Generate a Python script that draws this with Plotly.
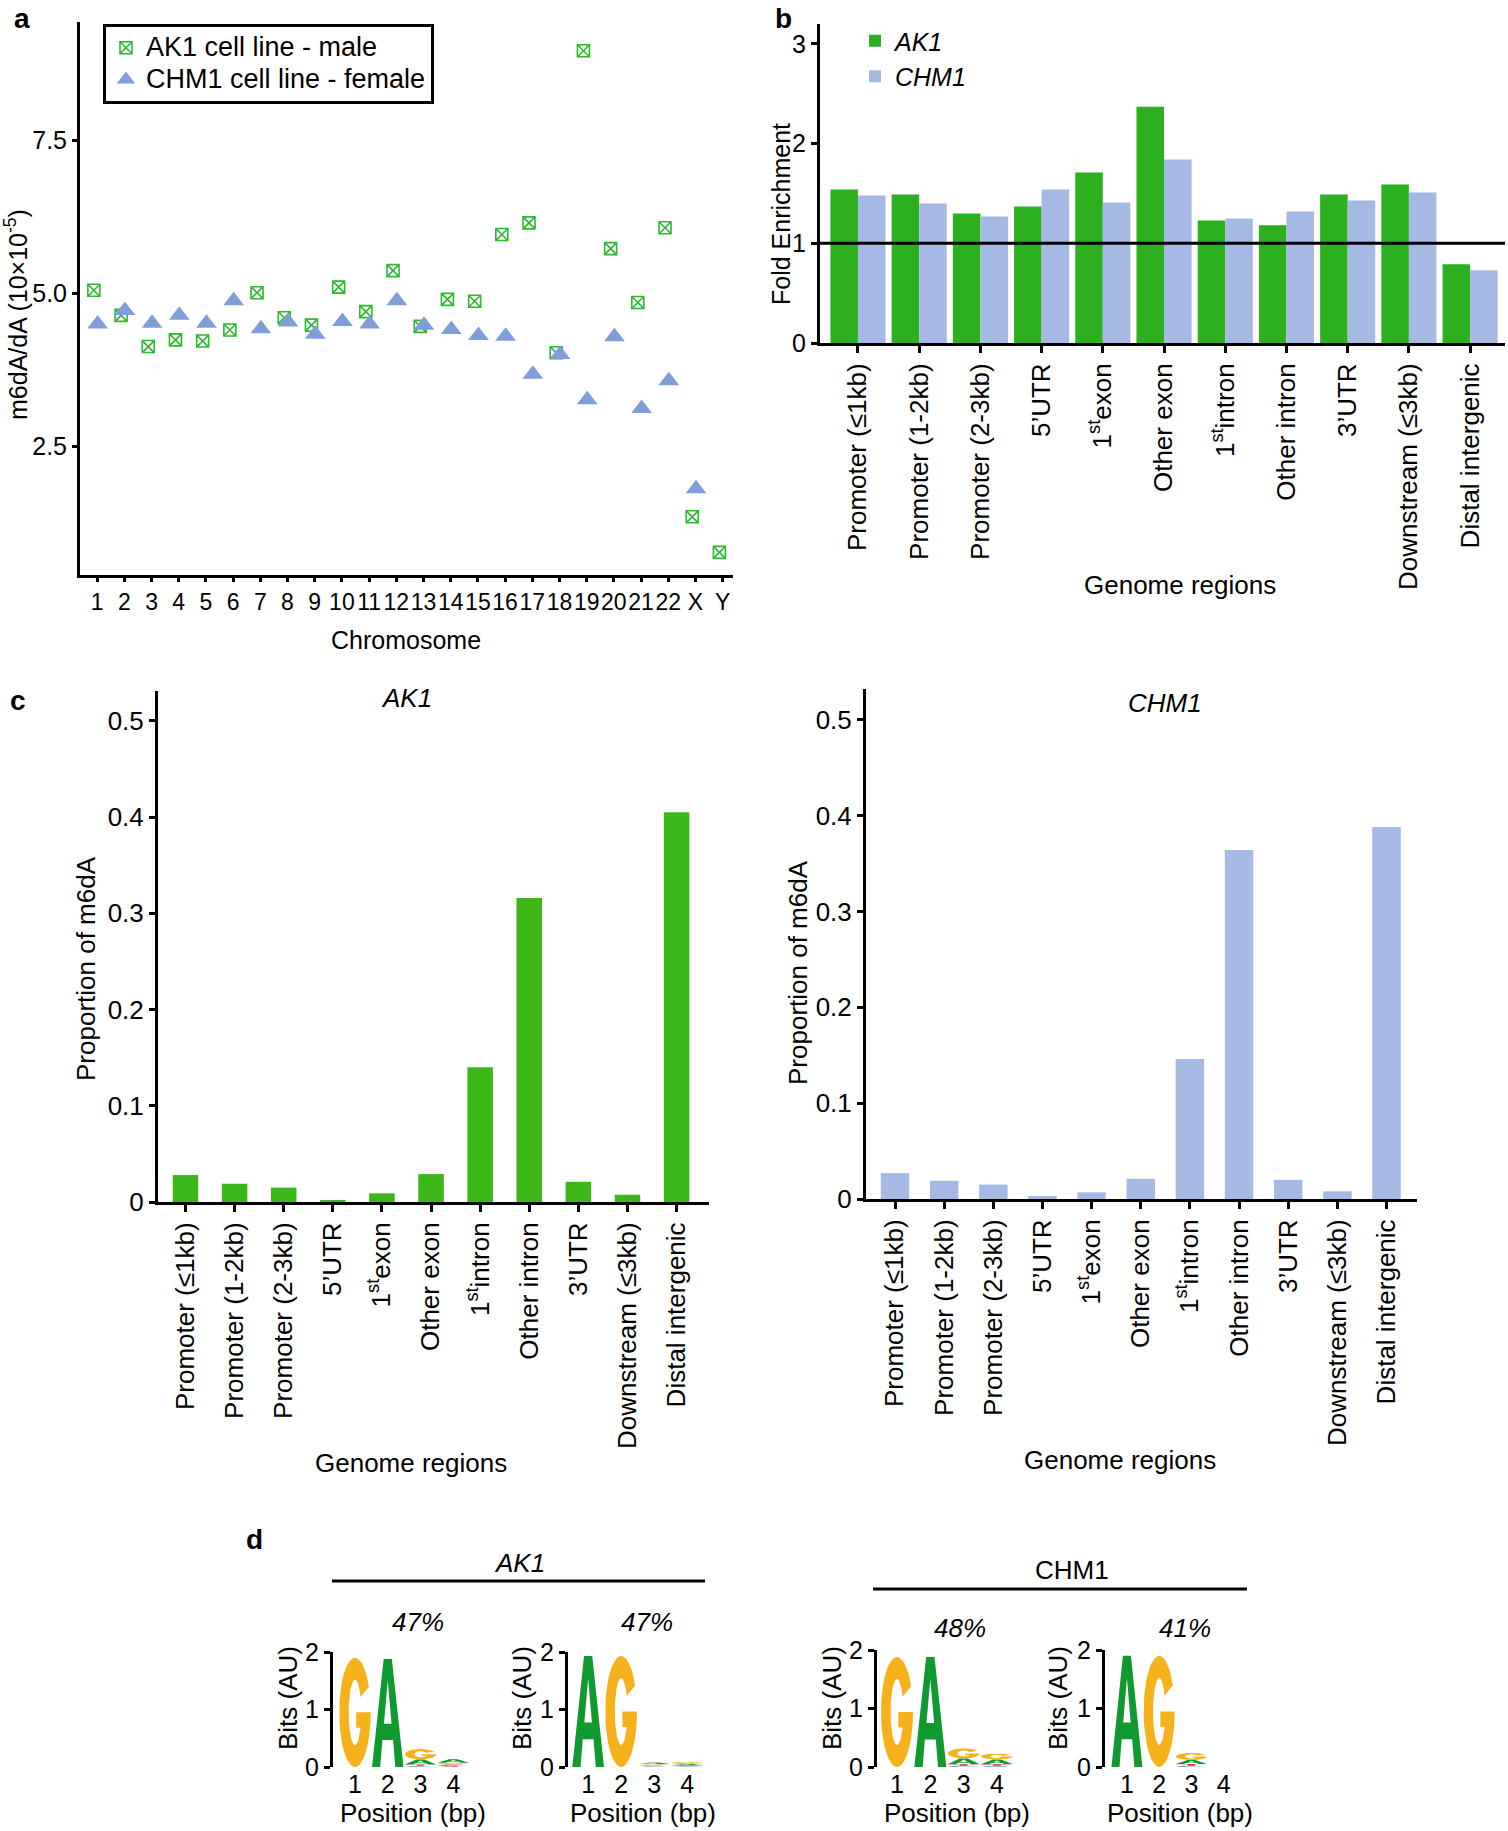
import numpy as np
import plotly.graph_objects as go

W, H = 1508, 1831
OFF = 0
FONT = "Liberation Sans, Arial, Helvetica, sans-serif"

# ---------------- data ----------------
# panel a
chromosomes = [str(i) for i in range(1, 23)] + ["X", "Y"]
ak1_m6da = [5.05, 4.64, 4.13, 4.24, 4.22, 4.40, 5.01, 4.60, 4.48, 5.10, 4.70, 5.37,
            4.46, 4.90, 4.87, 5.96, 6.15, 4.03, 8.96, 5.73, 4.85, 6.07, 1.35, 0.77]
chm1_m6da = [4.50, 4.72, 4.51, 4.64, 4.51, 4.88, 4.42, 4.53, 4.33, 4.54, 4.50, 4.88,
             4.48, 4.41, 4.31, 4.30, 3.68, 4.00, 3.26, 4.29, 3.12, 3.57, 1.81, None]

# panel b / c
regions = ["Promoter (≤1kb)", "Promoter (1-2kb)", "Promoter (2-3kb)", "5’UTR",
           "1<sup>st</sup>exon", "Other exon", "1<sup>st</sup>intron", "Other intron",
           "3’UTR", "Downstream (≤3kb)", "Distal intergenic"]
ak1_fold = [1.54, 1.49, 1.30, 1.37, 1.71, 2.37, 1.23, 1.18, 1.49, 1.59, 0.79]
chm1_fold = [1.48, 1.40, 1.27, 1.54, 1.41, 1.84, 1.25, 1.32, 1.43, 1.51, 0.73]
ak1_prop = [0.028, 0.019, 0.015, 0.002, 0.009, 0.029, 0.140, 0.316, 0.021, 0.0075, 0.405]
chm1_prop = [0.027, 0.019, 0.015, 0.003, 0.007, 0.021, 0.146, 0.364, 0.020, 0.008, 0.388]

# panel d: sequence logos (bits per letter at positions 1..4)
logo_positions = [1, 2, 3, 4]
ak1_GA = {"G": [1.90, 0, 0.18, 0.035], "A": [0, 1.88, 0.09, 0.06],
          "C": [0, 0, 0.02, 0.025], "T": [0, 0, 0.022, 0.015]}
ak1_AG = {"A": [1.93, 0, 0.03, 0.03], "G": [0, 1.93, 0.025, 0.035],
          "C": [0, 0, 0.015, 0.015], "T": [0, 0, 0.01, 0.01]}
chm1_GA = {"G": [1.88, 0, 0.17, 0.10], "A": [0, 1.88, 0.10, 0.085],
           "C": [0, 0, 0.022, 0.02], "T": [0, 0, 0.025, 0.025]}
chm1_AG = {"A": [1.90, 0, 0.07, 0.012], "G": [0, 1.90, 0.12, 0],
           "C": [0, 0, 0.022, 0], "T": [0, 0, 0.028, 0]}
logo_pct = ["47%", "47%", "48%", "41%"]

# ---------------- styles ----------------
GREEN_A = "#2DB82D"
BLUE_A = "#7F9ED9"
GREEN_B = "#2DB020"
BLUE_B = "#A6B9E4"
GREEN_C = "#3BB71A"
LETTER_COLORS = {"G": "#F6B21C", "A": "#10992F", "C": "#5B7FC9", "T": "#D9303A"}


def px_x(px):
    return (px - OFF) / W


def px_y(py):
    return 1 - (py - OFF) / H


def xd(a, b):
    return [px_x(a), px_x(b)]


def yd(top, bottom):
    return [px_y(bottom), px_y(top)]


def ann(text, px, py, size=25, angle=0, xanchor="center", yanchor="middle"):
    return dict(text=text, x=px_x(px), y=px_y(py), xref="paper", yref="paper",
                showarrow=False, textangle=angle, xanchor=xanchor, yanchor=yanchor,
                font=dict(size=size, family=FONT, color="black"))


# ---------------- glyph outlines (unit box) ----------------
def arc(cx, cy, rx, ry, a0, a1, n=48):
    t = np.radians(np.linspace(a0, a1, n))
    return list(cx + rx * np.cos(t)), list(cy + ry * np.sin(t))


def glyph(letter):
    if letter == "A":
        xs = [0, 0.26, 0.33, 0.67, 0.74, 1, 0.63, 0.37, 0, 0.38, 0.5, 0.62, 0.38, 0]
        ys = [0, 0, 0.25, 0.25, 0, 0, 1, 1, 0, 0.40, 0.80, 0.40, 0.40, 0]
        return xs, ys
    if letter == "T":
        return ([0, 1, 1, 0.62, 0.62, 0.38, 0.38, 0],
                [1, 1, 0.82, 0.82, 0, 0, 0.82, 0.82])
    if letter == "C":
        ox, oy = arc(0.5, 0.5, 0.5, 0.5, 40, 320)
        ix, iy = arc(0.5, 0.5, 0.22, 0.28, 320, 40)
        return ox + ix, oy + iy
    # G
    ox, oy = arc(0.5, 0.5, 0.5, 0.5, 28, 360)
    rix, riy = 0.2, 0.3
    bar_bottom = 0.36
    ang = 360 + np.degrees(np.arcsin((bar_bottom - 0.5) / riy))
    ix, iy = arc(0.5, 0.5, rix, riy, ang, 28)
    xs = ox + [0.54, 0.54] + ix
    ys = oy + [0.5, bar_bottom] + iy
    return xs, ys


def logo_traces(bits, axis_n, half=0.48):
    per_letter = {L: ([], []) for L in bits}
    for j, pos in enumerate(logo_positions):
        stack = sorted(((bits[L][j], L) for L in bits), key=lambda t: t[0])
        y0 = 0.0
        for h, L in stack:
            if h <= 0:
                continue
            gx, gy = glyph(L)
            xs = [pos - half + 2 * half * v for v in gx]
            ys = [y0 + h * v for v in gy]
            per_letter[L][0].extend(xs + [None])
            per_letter[L][1].extend(ys + [None])
            y0 += h
    traces = []
    for L, (xs, ys) in per_letter.items():
        if not xs:
            continue
        traces.append(go.Scatter(x=xs, y=ys, mode="lines", fill="toself",
                                 fillcolor=LETTER_COLORS[L],
                                 line=dict(width=0, color=LETTER_COLORS[L]),
                                 xaxis=f"x{axis_n}", yaxis=f"y{axis_n}",
                                 showlegend=False, hoverinfo="skip"))
    return traces


fig = go.Figure()

# ---------------- panel a ----------------
idx = np.arange(len(chromosomes))
fig.add_trace(go.Scatter(x=idx - 0.12, y=ak1_m6da, mode="markers",
                         name="<span style='font-size:27px'>AK1 cell line - male</span>",
                         marker=dict(symbol="square-x-open", size=12, color=GREEN_A,
                                     line=dict(width=1.6, color=GREEN_A)),
                         xaxis="x", yaxis="y", legend="legend"))
fig.add_trace(go.Scatter(x=idx + 0.02, y=chm1_m6da, mode="markers",
                         name="<span style='font-size:27px'>CHM1 cell line - female</span>",
                         marker=dict(symbol="triangle-up", size=18, color=BLUE_A),
                         xaxis="x", yaxis="y", legend="legend"))

# ---------------- panel b ----------------
fig.add_trace(go.Bar(x=regions, y=ak1_fold, name="AK1", marker_color=GREEN_B,
                     marker_line_width=0, offset=-0.45, width=0.45,
                     xaxis="x2", yaxis="y2", legend="legend2"))
fig.add_trace(go.Bar(x=regions, y=chm1_fold, name="CHM1", marker_color=BLUE_B,
                     marker_line_width=0, offset=0.0, width=0.45,
                     xaxis="x2", yaxis="y2", legend="legend2"))

# ---------------- panel c ----------------
fig.add_trace(go.Bar(x=regions, y=ak1_prop, marker_color=GREEN_C, marker_line_width=0,
                     width=0.52, offset=-0.26, xaxis="x3", yaxis="y3", showlegend=False))
fig.add_trace(go.Bar(x=regions, y=chm1_prop, marker_color=BLUE_B, marker_line_width=0,
                     width=0.58, offset=-0.29, xaxis="x4", yaxis="y4", showlegend=False))

# ---------------- panel d ----------------
for bits, n in [(ak1_GA, 5), (ak1_AG, 6), (chm1_GA, 7), (chm1_AG, 8)]:
    for tr in logo_traces(bits, n):
        fig.add_trace(tr)

# ---------------- axes ----------------
base = dict(showgrid=False, zeroline=False, showline=True, linecolor="black",
            linewidth=3, ticks="outside", tickcolor="black", tickwidth=2.5,
            ticklen=6, automargin=False,
            tickfont=dict(size=25, family=FONT, color="black"))

layout_axes = {}
layout_axes["xaxis"] = dict(base, domain=xd(80, 733), anchor="y", range=[-0.63, 23.38],
                            tickvals=list(idx), ticktext=chromosomes, ticklen=4,
                            tickangle=0,
                            tickfont=dict(size=23, family=FONT, color="black"))
layout_axes["yaxis"] = dict(base, domain=yd(22, 575), anchor="x", range=[0.40, 9.43],
                            tickvals=[2.5, 5.0, 7.5], tickformat=".1f", ticklen=5)

layout_axes["xaxis2"] = dict(base, domain=xd(820, 1505), anchor="y2", type="category",
                             range=[-0.62, 10.57], tickangle=-90, ticklen=7,
                             tickfont=dict(size=26, family=FONT, color="black"))
layout_axes["yaxis2"] = dict(base, domain=yd(24, 343), anchor="x2", range=[0, 3.2],
                             tickvals=[0, 1, 2, 3])

prop_ticks = [0, 0.1, 0.2, 0.3, 0.4, 0.5]
prop_text = ["0", "0.1", "0.2", "0.3", "0.4", "0.5"]
layout_axes["xaxis3"] = dict(base, domain=xd(158, 709), anchor="y3", type="category",
                             range=[-0.56, 10.66], tickangle=-90, ticklen=7,
                             tickfont=dict(size=26, family=FONT, color="black"))
layout_axes["yaxis3"] = dict(base, domain=yd(691, 1202), anchor="x3", range=[0, 0.531],
                             tickvals=prop_ticks, ticktext=prop_text,
                             tickfont=dict(size=26, family=FONT, color="black"))
layout_axes["xaxis4"] = dict(base, domain=xd(866, 1417), anchor="y4", type="category",
                             range=[-0.59, 10.62], tickangle=-90, ticklen=7,
                             tickfont=dict(size=26, family=FONT, color="black"))
layout_axes["yaxis4"] = dict(base, domain=yd(689, 1199), anchor="x4", range=[0, 0.532],
                             tickvals=prop_ticks, ticktext=prop_text,
                             tickfont=dict(size=26, family=FONT, color="black"))

logo_specs = [(5, (333, 473), (1652, 1767), [0.33, 4.6]),
              (6, (568, 706), (1652, 1767), [0.39, 4.57]),
              (7, (877, 1016), (1650, 1767), [0.40, 4.57]),
              (8, (1105, 1243), (1650, 1767), [0.32, 4.6])]
for n, (x0, x1), (t, b), rng in logo_specs:
    layout_axes[f"xaxis{n}"] = dict(showgrid=False, zeroline=False, showline=False,
                                    domain=xd(x0, x1), anchor=f"y{n}", range=rng,
                                    tickvals=logo_positions, ticks="", tickangle=0,
                                    automargin=False,
                                    tickfont=dict(size=25, family=FONT, color="black"))
    layout_axes[f"yaxis{n}"] = dict(base, domain=yd(t, b), anchor=f"x{n}", range=[0, 2],
                                    tickvals=[0, 1, 2], ticklen=6,
                                    tickfont=dict(size=25, family=FONT, color="black"))

# ---------------- annotations ----------------
annotations = [
    ann("<b>a</b>", 22, 18, size=28),
    ann("<b>b</b>", 783, 18, size=28),
    ann("<b>c</b>", 18, 700, size=28),
    ann("<b>d</b>", 254, 1539, size=28),
    ann("m6dA/dA (10×10<sup>-5</sup>)", 16, 315, angle=-90),
    ann("Chromosome", 406, 640),
    ann("Fold Enrichment", 781, 214, angle=-90),
    ann("Genome regions", 1180, 585, size=26),
    ann("<i>AK1</i>", 406, 698, size=26),
    ann("Proportion of m6dA", 86, 969, size=26, angle=-90),
    ann("Genome regions", 411, 1463, size=26),
    ann("<i>CHM1</i>", 1165, 703, size=26),
    ann("Proportion of m6dA", 798, 973, size=26, angle=-90),
    ann("Genome regions", 1120, 1460, size=26),
    ann("<i>AK1</i>", 519, 1563, size=26),
    ann("CHM1", 1072, 1570, size=26),
]
pct_pos = [(418, 1622), (647, 1622), (960, 1628), (1185, 1628)]
for txt, (px, py) in zip(logo_pct, pct_pos):
    annotations.append(ann(f"<i>{txt}</i>", px, py, size=26))
for bx, by in [(288, 1698), (522, 1698), (832, 1698), (1058, 1698)]:
    annotations.append(ann("Bits (AU)", bx, by, size=26, angle=-90))
for px in [413, 643, 957, 1180]:
    annotations.append(ann("Position (bp)", px, 1813, size=26))

shapes = [
    dict(type="line", xref="x2 domain", x0=0, x1=1, yref="y2", y0=1, y1=1,
         line=dict(color="black", width=3)),
    dict(type="line", xref="paper", yref="paper", x0=px_x(332), x1=px_x(705),
         y0=px_y(1581), y1=px_y(1581), line=dict(color="black", width=3)),
    dict(type="line", xref="paper", yref="paper", x0=px_x(873), x1=px_x(1247),
         y0=px_y(1589), y1=px_y(1589), line=dict(color="black", width=3)),
]

fig.update_layout(
    width=W, height=H, margin=dict(l=0, r=0, t=0, b=0, autoexpand=False),
    paper_bgcolor="white", plot_bgcolor="white",
    font=dict(family=FONT, color="black", size=25),
    barmode="overlay", showlegend=True,
    legend=dict(x=px_x(103), y=px_y(24), xanchor="left", yanchor="top",
                bordercolor="black", borderwidth=3, bgcolor="white",
                font=dict(size=22, family=FONT, color="black"), tracegroupgap=0),
    legend2=dict(x=px_x(855), y=px_y(18), xanchor="left", yanchor="top",
                 bgcolor="rgba(0,0,0,0)", borderwidth=0,
                 font=dict(size=25, family=FONT, color="black", style="italic")),
    annotations=annotations, shapes=shapes,
    **layout_axes,
)

# the page's default 8 px body margin would push the figure off its 1508x1831 frame
fig.write_html("out.html", config={"displayModeBar": False},
               post_script="document.body.style.margin='0px';")
